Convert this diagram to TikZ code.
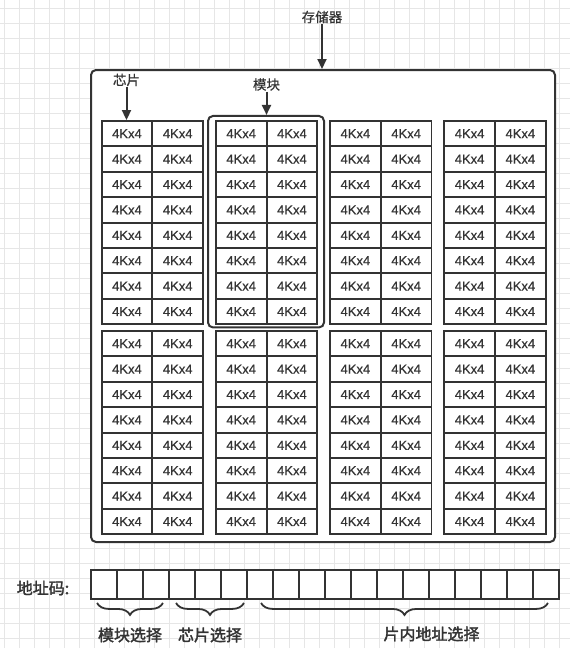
\documentclass[tikz,border=0pt]{standalone}
\usepackage{fontspec}
\setmainfont{Liberation Sans}
\newfontfamily\cellfont[FakeBold=0.5]{Liberation Sans}
\newfontfamily\cjk[AutoFakeBold=2]{Noto Sans CJK SC}
\newfontfamily\cjktag[FakeBold=0.5]{Noto Sans CJK SC}
\usetikzlibrary{arrows.meta,decorations.pathreplacing}
\definecolor{ink}{HTML}{333333}
\definecolor{gridgray}{HTML}{E6E6E6}

\begin{document}
\begin{tikzpicture}[x=1pt,y=-1pt]
   \tikzstyle{gridline}=[draw=gridgray, line width=0.8pt]
   \tikzstyle{cell}=[draw=ink, line width=1.9pt, fill=white, minimum width=50.75pt, minimum height=25.4pt, inner sep=0pt, text=ink, font=\cellfont\fontsize{13}{15}\selectfont]
   \tikzstyle{bit}=[draw=ink, line width=1.9pt, fill=white, minimum width=26pt, minimum height=29pt, inner sep=0pt]
   \tikzstyle{frame}=[draw=ink, line width=2pt, rounded corners=5pt, inner sep=0pt]
   \tikzstyle{pointer}=[draw=ink, line width=2pt, -{Triangle[length=10pt,width=9pt]}]
   \tikzstyle{tag}=[text=ink, inner sep=1pt, font=\cjktag\fontsize{13.5}{15}\selectfont]
   \tikzstyle{field}=[text=ink, inner sep=1pt, font=\cjk\bfseries\fontsize{16}{18}\selectfont]
   \tikzstyle{curly}=[draw=ink, line width=1.8pt, decorate, decoration={brace, mirror, amplitude=12pt}]

\useasboundingbox (0,0) rectangle (570,648);
\foreach \gx in {4.3,19.3,...,570} \draw[gridline] (\gx,0) -- (\gx,648);
\foreach \gy in {8.3,23.3,...,648} \draw[gridline] (0,\gy) -- (570,\gy);

% memory, module, chip
\node[frame, fill=white, minimum width=464pt, minimum height=472pt] (mem) at (323,306) {};
\node[frame, minimum width=116pt, minimum height=211.5pt] (blk) at (266,221.7) {};

\foreach \i in {0,...,3}
  \foreach \j in {0,1}
    \foreach \r in {0,...,7}
      \foreach \c in {0,1}
        \node[cell] (c-\i-\j-\r-\c) at ({127 + 114.2*\i + 50.75*\c}, {133.7 + 210*\j + 25.4*\r}) {4Kx4};

\node[tag] (memtag) at (322,17) {存储器};
\node[tag] (chiptag) at (126.5,80) {芯片};
\node[tag] (blktag) at (266.5,84.5) {模块};

\draw[pointer] (memtag.south) -- (memtag.south |- mem.north);
\draw[pointer] (chiptag.south) -- (chiptag.south |- c-0-0-0-0.north);
\draw[pointer] (blktag.south) -- (blktag.south |- blk.north);

% address code
\node[field] (addrtag) at (43,588) {地址码:};
\foreach \k in {1,...,18}
  \node[bit] (a\k) at ({78 + 26*\k}, 584.5) {};

\draw[curly] ([xshift=7pt, yshift=-3pt]a1.south west) -- ([xshift=-7pt, yshift=-3pt]a3.south east)
   node[field, midway, yshift=-32pt] (sel1) {模块选择};
\draw[curly] ([xshift=8pt, yshift=-3pt]a4.south west) -- ([xshift=-4pt, yshift=-3pt]a6.south east)
   node[field, midway, yshift=-32pt] (sel2) {芯片选择};
\draw[curly] ([xshift=15pt, yshift=-3pt]a7.south west) -- ([xshift=-12pt, yshift=-3pt]a18.south east)
   node[field, midway, xshift=27pt, yshift=-31pt] (sel3) {片内地址选择};

\end{tikzpicture}
\end{document}
